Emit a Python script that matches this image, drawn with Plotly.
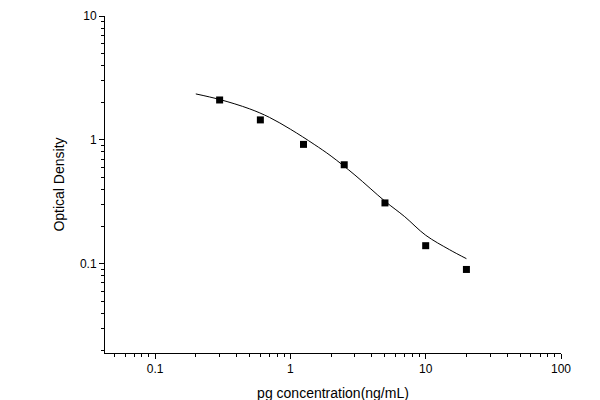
import plotly.graph_objects as go

conc = [0.3, 0.6, 1.25, 2.5, 5, 10, 20]
od = [2.1, 1.45, 0.92, 0.63, 0.31, 0.14, 0.09]
curve_x = [0.2, 0.3, 0.5, 0.7, 1, 1.5, 2, 3, 5, 7, 10, 15, 20]
curve_y = [2.35, 2.12, 1.78, 1.52, 1.22, 0.92, 0.74, 0.52, 0.32, 0.24, 0.17, 0.13, 0.11]

fig = go.Figure()
fig.add_trace(go.Scatter(x=curve_x, y=curve_y, mode="lines", line=dict(color="black", width=1, shape="spline")))
fig.add_trace(go.Scatter(x=conc, y=od, mode="markers", marker=dict(symbol="square", size=7, color="black")))

axis_common = dict(type="log", showline=True, linecolor="black", linewidth=1, ticks="outside",
                   ticklen=5, tickcolor="black", showgrid=False, zeroline=False, automargin=False,
                   minor=dict(ticks="outside", ticklen=3, tickcolor="black", dtick="D1", showgrid=False),
                   tickfont=dict(family="Arial", size=12, color="black"))
fig.update_xaxes(**axis_common, range=[-1.37, 2], tickvals=[0.1, 1, 10, 100], ticktext=["0.1", "1", "10", "100"],
                 title=dict(text="pg concentration(ng/mL)", font=dict(family="Arial", size=14, color="black"), standoff=12))
fig.update_yaxes(**axis_common, range=[-1.72, 1], tickvals=[0.1, 1, 10], ticktext=["0.1", "1", "10"],
                 title=dict(text="Optical Density", font=dict(family="Arial", size=14, color="black"), standoff=12))
fig.update_layout(width=600, height=400, showlegend=False, plot_bgcolor="white", paper_bgcolor="white",
                  margin=dict(l=97, r=47, t=8, b=55))
fig.write_html("out.html")
